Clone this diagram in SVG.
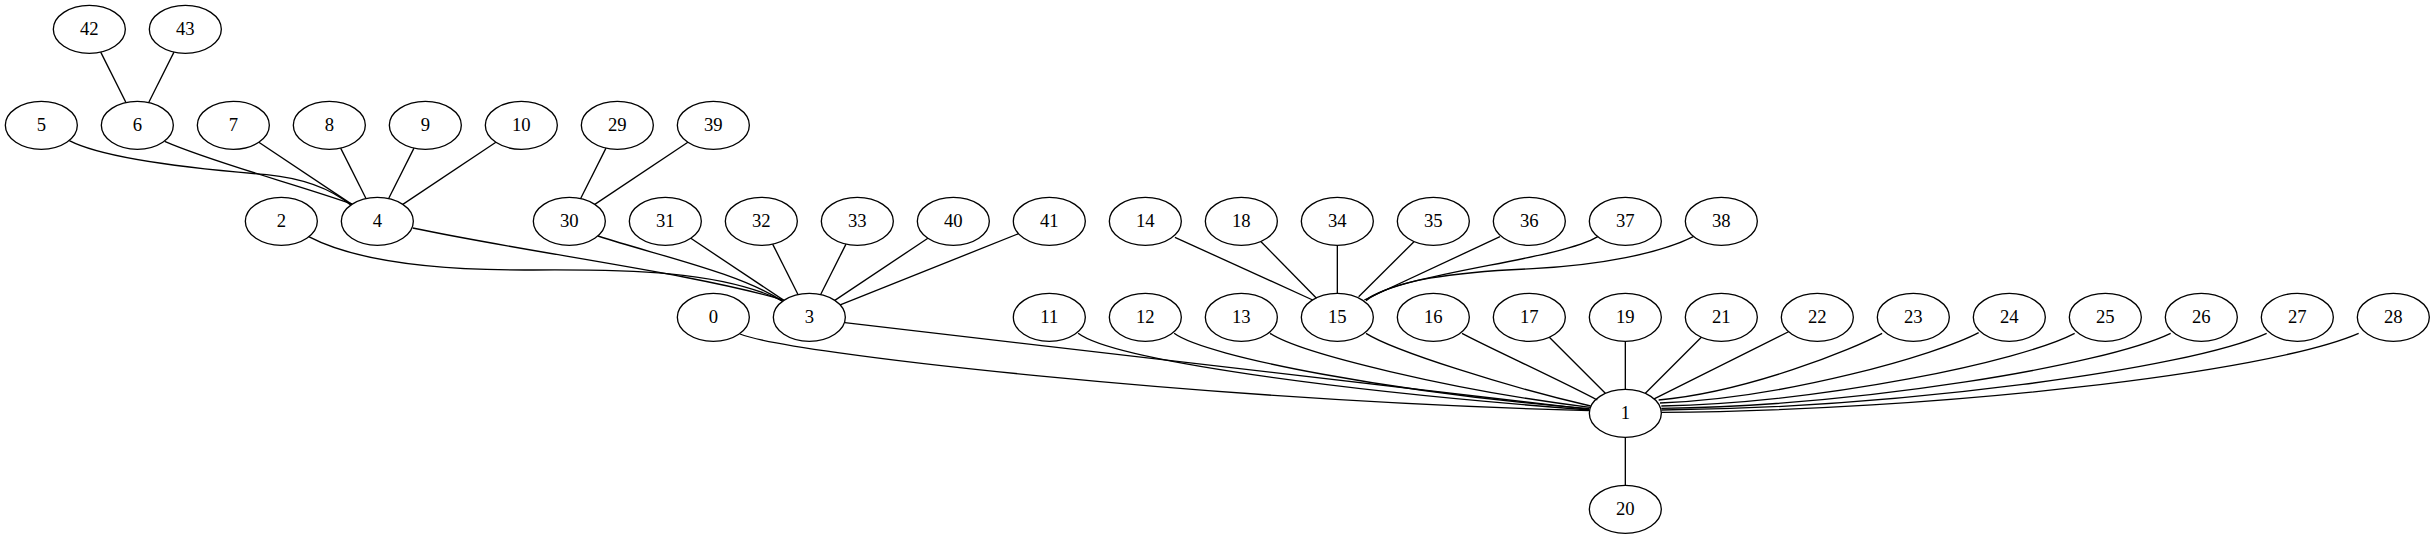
<svg xmlns="http://www.w3.org/2000/svg" width="2435" height="539" viewBox="0 0 2435 539">
<style>
.node ellipse{fill:none;stroke:#000;stroke-width:1}
.node text{font-family:"Liberation Serif","Times New Roman",serif;font-size:14px;text-anchor:middle;fill:#000}
.edge path{fill:none;stroke:#000;stroke-width:1}
</style>
<rect x="0" y="0" width="2435" height="539" fill="#fff"/>
<g transform="scale(1.33333)">
<g id="edges" class="edge">
<path d="M75.54,39.08L94.46,76.92"/>
<path d="M130.46,39.08L111.54,76.92"/>
<path d="M52,105.5C80,120 150,127 200,131C230,134 250,143 263,153.8"/>
<path d="M123.5,106C160,122 225,139 264,153"/>
<path d="M194.1,106.7L263.9,153.3"/>
<path d="M255.5,111.1L274.5,148.9"/>
<path d="M310.5,111.1L291.5,148.9"/>
<path d="M371.9,106.7L302.1,153.3"/>
<path d="M454.5,111.1L435.5,148.9"/>
<path d="M515.9,106.7L446.1,153.3"/>
<path d="M309.5,171C400,190 520,205 587.5,225"/>
<path d="M231.5,177.5C265,195 320,203 400,202.5C470,202 540,203 586.5,225.5"/>
<path d="M448.5,177C495,192 555,205 587,226"/>
<path d="M518.1,178.7L587.9,225.3"/>
<path d="M579.5,183.1L598.5,220.9"/>
<path d="M634.5,183.1L615.5,220.9"/>
<path d="M695.9,178.7L626.1,225.3"/>
<path d="M763.85,175.26L630.15,228.74"/>
<path d="M881.2,178L984.5,225"/>
<path d="M945.8,181.3L987.4,223.7"/>
<path d="M1003,184L1003,220"/>
<path d="M1060.5,181.3L1019,222.5"/>
<path d="M1125,177.5L1023.2,225"/>
<path d="M1198.3,177.5C1170,195 1050,205 1024.5,225"/>
<path d="M1270,177.5C1245,190 1200,199 1149.5,201.5C1090,204 1045,210 1024.5,225.5"/>
<path d="M555,250.5C590,265 900,300 1192,308"/>
<path d="M633.6,242L1192,307"/>
<path d="M808.6,250C835,270 1000,293 1192,307.5"/>
<path d="M880.6,250C905,268 1050,295 1192,306.5"/>
<path d="M952.6,250C975,265 1090,293 1192.5,305.5"/>
<path d="M1024.5,250C1045,263 1130,290 1193,304.5"/>
<path d="M1096.5,250C1115,260 1170,285 1198,300"/>
<path d="M1162,253L1204,295"/>
<path d="M1219,256L1219,292"/>
<path d="M1276,253L1234,295"/>
<path d="M1341.4,248.8L1240.6,299.2"/>
<path d="M1411.6,250C1390,262 1310,294 1244,300"/>
<path d="M1484,249.5C1453,266 1338,299 1245,302.25"/>
<path d="M1556,250C1516,271 1367,302 1246,304.5"/>
<path d="M1628,250C1578,274 1395,304.5 1246,306.25"/>
<path d="M1700,250C1641,277 1423,306 1246,307.5"/>
<path d="M1769,250C1700,280 1450,308 1246,309.25"/>
<path d="M1219,328L1219,364"/>
</g>
<g id="node-0" class="node"><ellipse cx="535" cy="238" rx="27" ry="18"/><text x="535" y="242.2">0</text></g>
<g id="node-1" class="node"><ellipse cx="1219" cy="310" rx="27" ry="18"/><text x="1219" y="314.2">1</text></g>
<g id="node-2" class="node"><ellipse cx="211" cy="166" rx="27" ry="18"/><text x="211" y="170.2">2</text></g>
<g id="node-3" class="node"><ellipse cx="607" cy="238" rx="27" ry="18"/><text x="607" y="242.2">3</text></g>
<g id="node-4" class="node"><ellipse cx="283" cy="166" rx="27" ry="18"/><text x="283" y="170.2">4</text></g>
<g id="node-5" class="node"><ellipse cx="31" cy="94" rx="27" ry="18"/><text x="31" y="98.2">5</text></g>
<g id="node-6" class="node"><ellipse cx="103" cy="94" rx="27" ry="18"/><text x="103" y="98.2">6</text></g>
<g id="node-7" class="node"><ellipse cx="175" cy="94" rx="27" ry="18"/><text x="175" y="98.2">7</text></g>
<g id="node-8" class="node"><ellipse cx="247" cy="94" rx="27" ry="18"/><text x="247" y="98.2">8</text></g>
<g id="node-9" class="node"><ellipse cx="319" cy="94" rx="27" ry="18"/><text x="319" y="98.2">9</text></g>
<g id="node-10" class="node"><ellipse cx="391" cy="94" rx="27" ry="18"/><text x="391" y="98.2">10</text></g>
<g id="node-11" class="node"><ellipse cx="787" cy="238" rx="27" ry="18"/><text x="787" y="242.2">11</text></g>
<g id="node-12" class="node"><ellipse cx="859" cy="238" rx="27" ry="18"/><text x="859" y="242.2">12</text></g>
<g id="node-13" class="node"><ellipse cx="931" cy="238" rx="27" ry="18"/><text x="931" y="242.2">13</text></g>
<g id="node-14" class="node"><ellipse cx="859" cy="166" rx="27" ry="18"/><text x="859" y="170.2">14</text></g>
<g id="node-15" class="node"><ellipse cx="1003" cy="238" rx="27" ry="18"/><text x="1003" y="242.2">15</text></g>
<g id="node-16" class="node"><ellipse cx="1075" cy="238" rx="27" ry="18"/><text x="1075" y="242.2">16</text></g>
<g id="node-17" class="node"><ellipse cx="1147" cy="238" rx="27" ry="18"/><text x="1147" y="242.2">17</text></g>
<g id="node-18" class="node"><ellipse cx="931" cy="166" rx="27" ry="18"/><text x="931" y="170.2">18</text></g>
<g id="node-19" class="node"><ellipse cx="1219" cy="238" rx="27" ry="18"/><text x="1219" y="242.2">19</text></g>
<g id="node-20" class="node"><ellipse cx="1219" cy="382" rx="27" ry="18"/><text x="1219" y="386.2">20</text></g>
<g id="node-21" class="node"><ellipse cx="1291" cy="238" rx="27" ry="18"/><text x="1291" y="242.2">21</text></g>
<g id="node-22" class="node"><ellipse cx="1363" cy="238" rx="27" ry="18"/><text x="1363" y="242.2">22</text></g>
<g id="node-23" class="node"><ellipse cx="1435" cy="238" rx="27" ry="18"/><text x="1435" y="242.2">23</text></g>
<g id="node-24" class="node"><ellipse cx="1507" cy="238" rx="27" ry="18"/><text x="1507" y="242.2">24</text></g>
<g id="node-25" class="node"><ellipse cx="1579" cy="238" rx="27" ry="18"/><text x="1579" y="242.2">25</text></g>
<g id="node-26" class="node"><ellipse cx="1651" cy="238" rx="27" ry="18"/><text x="1651" y="242.2">26</text></g>
<g id="node-27" class="node"><ellipse cx="1723" cy="238" rx="27" ry="18"/><text x="1723" y="242.2">27</text></g>
<g id="node-28" class="node"><ellipse cx="1795" cy="238" rx="27" ry="18"/><text x="1795" y="242.2">28</text></g>
<g id="node-29" class="node"><ellipse cx="463" cy="94" rx="27" ry="18"/><text x="463" y="98.2">29</text></g>
<g id="node-30" class="node"><ellipse cx="427" cy="166" rx="27" ry="18"/><text x="427" y="170.2">30</text></g>
<g id="node-31" class="node"><ellipse cx="499" cy="166" rx="27" ry="18"/><text x="499" y="170.2">31</text></g>
<g id="node-32" class="node"><ellipse cx="571" cy="166" rx="27" ry="18"/><text x="571" y="170.2">32</text></g>
<g id="node-33" class="node"><ellipse cx="643" cy="166" rx="27" ry="18"/><text x="643" y="170.2">33</text></g>
<g id="node-34" class="node"><ellipse cx="1003" cy="166" rx="27" ry="18"/><text x="1003" y="170.2">34</text></g>
<g id="node-35" class="node"><ellipse cx="1075" cy="166" rx="27" ry="18"/><text x="1075" y="170.2">35</text></g>
<g id="node-36" class="node"><ellipse cx="1147" cy="166" rx="27" ry="18"/><text x="1147" y="170.2">36</text></g>
<g id="node-37" class="node"><ellipse cx="1219" cy="166" rx="27" ry="18"/><text x="1219" y="170.2">37</text></g>
<g id="node-38" class="node"><ellipse cx="1291" cy="166" rx="27" ry="18"/><text x="1291" y="170.2">38</text></g>
<g id="node-39" class="node"><ellipse cx="535" cy="94" rx="27" ry="18"/><text x="535" y="98.2">39</text></g>
<g id="node-40" class="node"><ellipse cx="715" cy="166" rx="27" ry="18"/><text x="715" y="170.2">40</text></g>
<g id="node-41" class="node"><ellipse cx="787" cy="166" rx="27" ry="18"/><text x="787" y="170.2">41</text></g>
<g id="node-42" class="node"><ellipse cx="67" cy="22" rx="27" ry="18"/><text x="67" y="26.2">42</text></g>
<g id="node-43" class="node"><ellipse cx="139" cy="22" rx="27" ry="18"/><text x="139" y="26.2">43</text></g>
</g>
</svg>
